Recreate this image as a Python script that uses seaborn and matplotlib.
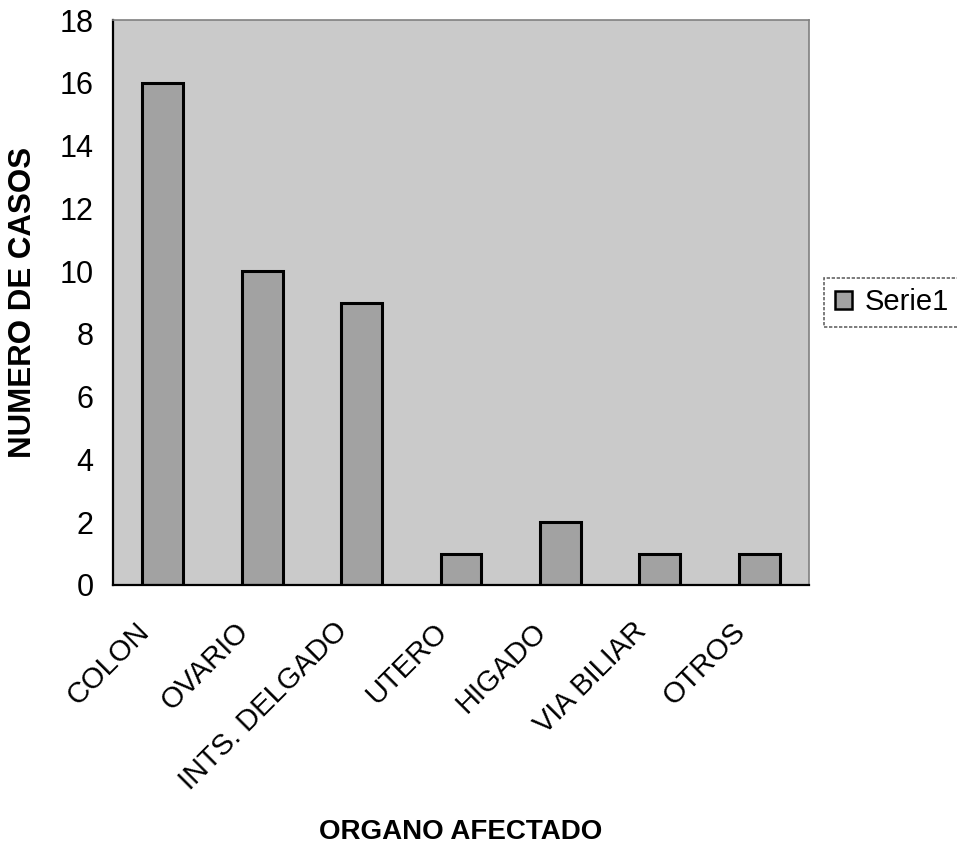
import matplotlib
matplotlib.use("Agg")
import matplotlib.pyplot as plt
import matplotlib.transforms as mtransforms
import seaborn as sns
import pandas as pd
import numpy as np

categories = ["COLON", "OVARIO", "INTS. DELGADO", "UTERO", "HIGADO", "VIA BILIAR", "OTROS"]
values = [16, 10, 9, 1, 2, 1, 1]
series_name = "Serie1"
y_ticks = [0, 2, 4, 6, 8, 10, 12, 14, 16, 18]

sns.set_theme(style="white")
plt.rcParams['font.family'] = ['Liberation Sans', 'DejaVu Sans']
plt.rcParams['text.color'] = 'black'
plt.rcParams['axes.labelcolor'] = 'black'
plt.rcParams['xtick.color'] = 'black'
plt.rcParams['ytick.color'] = 'black'

df = pd.DataFrame({"organo": categories, "casos": values, "serie": series_name})

fig = plt.figure(figsize=(9.57, 8.56), dpi=100)
ax = fig.add_axes([113/957, 1 - 585/856, (809 - 113)/957, (585 - 20)/856])
ax.set_facecolor("#cacaca")

sns.barplot(data=df, x="organo", y="casos", hue="serie", palette=["#a2a2a2"],
            width=0.41, edgecolor="black", linewidth=2.2, ax=ax, dodge=False)

ax.set_ylim(0, 18)
ax.set_xlim(-0.5, len(categories) - 0.5)
ax.set_yticks(y_ticks)
ax.set_yticklabels([str(v) for v in y_ticks], fontsize=22, color="black")

# Excel-style ticks between categories
ax.set_xticks(np.arange(-0.5, len(categories), 1.0))
ax.set_xticklabels([])
ax.set_xticks(np.arange(len(categories)), minor=True)
ax.set_xticklabels(categories, minor=True, rotation=45, ha="right",
                   rotation_mode="anchor", fontsize=21, color="black")
ax.tick_params(axis="x", which="minor", length=0, pad=23)
ax.tick_params(axis="x", which="major", length=8, width=1.2, color="black", direction="out")
ax.tick_params(axis="y", length=7, width=1.2, color="black", direction="out", pad=7)
shift = mtransforms.ScaledTranslation(-0.28, 0, fig.dpi_scale_trans)
for lab in ax.get_xticklabels(minor=True):
    lab.set_transform(lab.get_transform() + shift)

for s in ["left", "bottom"]:
    ax.spines[s].set_color("black")
    ax.spines[s].set_linewidth(1.6)
for s in ["top", "right"]:
    ax.spines[s].set_color("#808080")
    ax.spines[s].set_linewidth(1.2)
    ax.spines[s].set_linestyle((0, (2, 1)))

ax.set_ylabel("")
ax.set_xlabel("")
fig.text(23/957, 1 - 302/856, "NUMERO DE CASOS", ha="center", va="center", rotation=90,
         fontsize=22.5, fontweight="bold", color="black")
fig.text((113 + 809) / 2 / 957, 1 - 832/856, "ORGANO AFECTADO", ha="center", va="center",
         fontsize=20, fontweight="bold", color="black")

leg = ax.legend(loc="center left", bbox_to_anchor=(1.022, 0.5), fontsize=21, frameon=True,
                fancybox=False, edgecolor="#404040", handlelength=0.6, handleheight=0.6,
                handletextpad=0.45, borderpad=0.35, borderaxespad=0.0)
leg.get_frame().set_linewidth(1.2)
leg.get_frame().set_linestyle((0, (2, 1)))
for t in leg.get_texts():
    t.set_color("black")
for h in leg.legend_handles:
    h.set_edgecolor("black")
    h.set_linewidth(1.8)

fig.savefig("out.png", dpi=100, facecolor="white")
